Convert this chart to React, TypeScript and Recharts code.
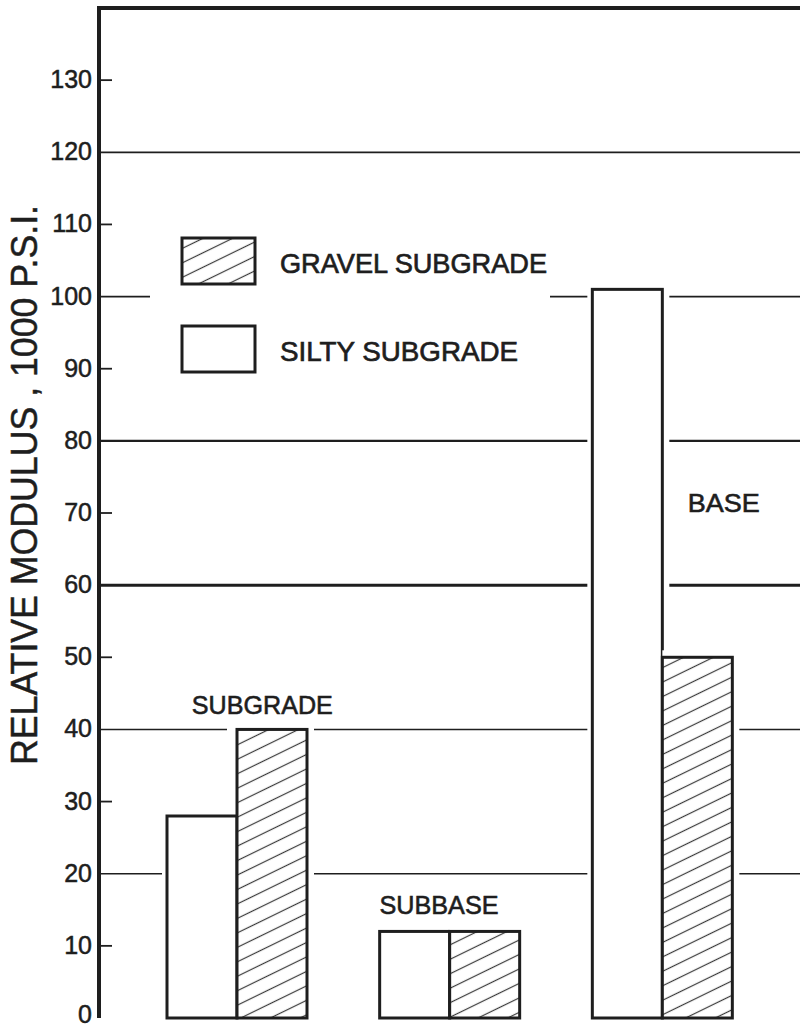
import { BarChart, Bar, XAxis, YAxis, CartesianGrid, Legend, ReferenceDot } from "recharts";

const layers = ["SUBGRADE", "SUBBASE", "BASE"];
const siltySubgrade = [28, 12, 101];
const gravelSubgrade = [40, 12, 50];
const yTicks = [0, 10, 20, 30, 40, 50, 60, 70, 80, 90, 100, 110, 120, 130];
const gridValues = [20, 40, 60, 80, 100, 120, 140];
const gridWidths = [1.6, 1.6, 3, 2.2, 1.8, 1.8, 4];

const INK = "#1e1e1e";
const FONT = '"Liberation Sans", Arial, sans-serif';

const data = layers.map((layer, i) => ({
  layer,
  silty: siltySubgrade[i],
  gravel: gravelSubgrade[i],
}));

function Hatch({ id }: { id: string }) {
  return (
    <pattern id={id} patternUnits="userSpaceOnUse" width={13} height={13} patternTransform="rotate(-26)">
      <line x1={0} y1={6.5} x2={13} y2={6.5} stroke="#3a3a3a" strokeWidth={1.2} />
    </pattern>
  );
}

// white halo around the bars makes the gridlines stop short of them
function SiltyBar(props: any) {
  const { x, y, width, height } = props;
  return (
    <g>
      <rect x={x - 5} y={y - 7} width={width + 12} height={height + 7} fill="#fff" />
      <rect x={x} y={y} width={width} height={height} fill="#fff" stroke={INK} strokeWidth={3} />
    </g>
  );
}

function GravelBar(props: any) {
  const { x, y, width, height, payload, index } = props;
  const perUnit = height / payload.gravel;
  const siltyTop = y + height - payload.silty * perUnit;
  const id = `hatch-${index}`;
  return (
    <g>
      <defs>
        <Hatch id={id} />
      </defs>
      <rect x={x} y={y - 7} width={width + 7} height={height + 7} fill="#fff" />
      {payload.silty < payload.gravel && (
        <rect x={x - 10} y={y - 7} width={10} height={siltyTop - 2 - (y - 7)} fill="#fff" />
      )}
      <rect x={x} y={y} width={width} height={height} fill="#fff" />
      <rect x={x} y={y} width={width} height={height} fill={`url(#${id})`} stroke={INK} strokeWidth={3} />
    </g>
  );
}

function YTick(props: any) {
  const { x, y, payload } = props;
  const v = payload.value as number;
  return (
    <g>
      <text x={x} y={y} dy={v === 0 ? 5 : 8} textAnchor="end" fontFamily={FONT} fontSize={25} fill={INK} stroke={INK} strokeWidth={0.5}>
        {v}
      </text>
      {v % 20 === 10 && <line x1={x + 7} y1={y} x2={x + 20} y2={y} stroke={INK} strokeWidth={1.8} />}
    </g>
  );
}

function AxisTitle(props: any) {
  const vb = props.viewBox ?? { x: 0, y: 8, width: 99, height: 1010 };
  const cx = vb.x + 37;
  const cy = vb.y + vb.height / 2 - 28;
  return (
    <text
      x={cx}
      y={cy}
      transform={`rotate(-90, ${cx}, ${cy})`}
      textAnchor="middle"
      fontFamily={FONT}
      fontSize={36}
      fill={INK}
      stroke={INK}
      strokeWidth={0.5}
      textLength={560}
      lengthAdjust="spacingAndGlyphs"
    >
      RELATIVE MODULUS , 1000 P.S.I.
    </text>
  );
}

function LegendBox({ payload }: any) {
  const items = [...(payload ?? [])].sort((a: any, b: any) =>
    a.dataKey === "gravel" ? -1 : b.dataKey === "gravel" ? 1 : 0
  );
  return (
    <svg width={440} height={160} style={{ display: "block", overflow: "visible" }}>
      <defs>
        <Hatch id="hatch-legend" />
      </defs>
      <rect x={0} y={0} width={400} height={160} fill="#fff" />
      {items.map((it: any, i: number) => {
        const top = 10 + i * 88;
        const hatched = it.dataKey === "gravel";
        return (
          <g key={it.value}>
            <rect x={32} y={top} width={73} height={46} fill={hatched ? "url(#hatch-legend)" : "#fff"} stroke={INK} strokeWidth={3} />
            <text
              x={130}
              y={top + 35}
              fontFamily={FONT}
              fontSize={28}
              fill={INK}
              stroke={INK}
              strokeWidth={0.7}
              textLength={hatched ? 267 : 238}
              lengthAdjust="spacingAndGlyphs"
            >
              {it.value}
            </text>
          </g>
        );
      })}
    </svg>
  );
}

function layerLabel(text: string, dx: number, width: number) {
  return (p: any) => (
    <text
      x={p.cx + dx}
      y={p.cy}
      textAnchor="middle"
      fontFamily={FONT}
      fontSize={26}
      fill={INK}
      stroke={INK}
      strokeWidth={0.6}
      textLength={width}
      lengthAdjust="spacingAndGlyphs"
    >
      {text}
    </text>
  );
}

export default function App() {
  return (
    <div style={{ position: "absolute", left: 0, top: 0, width: 800, height: 1029, background: "#fff" }}>
      <BarChart
        width={800}
        height={1029}
        data={data}
        margin={{ top: 8, right: 0, bottom: 11, left: 0 }}
        barGap={0}
        barSize={70}
      >
        <CartesianGrid
          vertical={false}
          horizontalValues={gridValues}
          horizontal={(p: any) => (
            <line
              key={p.key ?? `h-${p.index}`}
              x1={p.index === gridValues.length - 1 ? p.x1 - 2 : p.x1}
              y1={p.y1}
              x2={p.x2}
              y2={p.y2}
              stroke={INK}
              strokeWidth={gridWidths[p.index] ?? 1.6}
            />
          )}
        />
        <XAxis
          dataKey="layer"
          height={0}
          tick={false}
          tickLine={false}
          axisLine={{ stroke: INK, strokeWidth: 4 }}
          padding={{ left: 32, right: 31 }}
        />
        <YAxis
          domain={[0, 140]}
          ticks={yTicks}
          width={99}
          tickSize={0}
          tickMargin={7}
          tickLine={false}
          axisLine={{ stroke: INK, strokeWidth: 4 }}
          tick={<YTick />}
          interval={0}
          label={<AxisTitle />}
        />
        <Legend
          layout="horizontal"
          verticalAlign="middle"
          align="center"
          content={<LegendBox />}
          wrapperStyle={{ left: 150, top: 228, width: 440, height: 160 }}
        />
        <Bar dataKey="silty" name="SILTY SUBGRADE" fill="#fff" shape={<SiltyBar />} isAnimationActive={false} />
        <Bar dataKey="gravel" name="GRAVEL SUBGRADE" fill="#fff" shape={<GravelBar />} isAnimationActive={false} />
        <ReferenceDot x="SUBGRADE" y={42.1} r={0} shape={layerLabel("SUBGRADE", 25, 141)} />
        <ReferenceDot x="SUBBASE" y={14.4} r={0} shape={layerLabel("SUBBASE", -11, 119)} />
        <ReferenceDot x="BASE" y={70.1} r={0} shape={layerLabel("BASE", 61, 72)} />
      </BarChart>
    </div>
  );
}
